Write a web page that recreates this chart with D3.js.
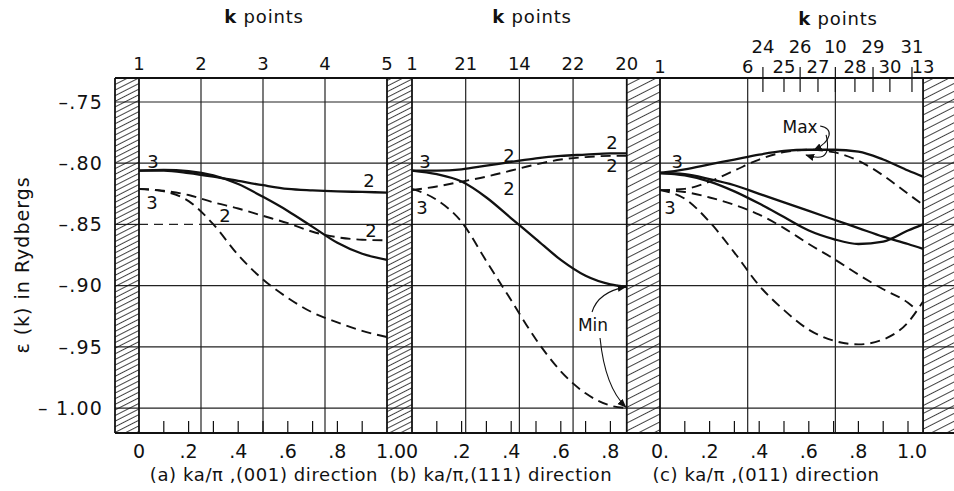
<!DOCTYPE html>
<html>
<head>
<meta charset="utf-8">
<script src="https://cdn.jsdelivr.net/npm/d3@7"></script>
<style>
  body { margin: 0; background: #fff; }
  text { font-family: "DejaVu Sans", sans-serif; fill: #111; }
</style>
</head>
<body>
<svg id="chart" width="954" height="491"></svg>
<script>
// energy axis (Rydbergs)
const yTicks = [-0.75, -0.80, -0.85, -0.90, -0.95, -1.00];
const yTickLabels = ["–.75", "–.80", "–.85", "–.90", "–.95", "– 1.00"];

// (a) ka/pi along (001)
const kA = [0, 0.1, 0.2, 0.3, 0.4, 0.5, 0.6, 0.7, 0.8, 0.9, 1.0];
const aSolidFlat = [-0.806, -0.806, -0.808, -0.811, -0.8145, -0.818, -0.821, -0.8222, -0.823, -0.8235, -0.824];
const aSolidDrop = [-0.806, -0.8055, -0.8065, -0.810, -0.817, -0.8275, -0.839, -0.852, -0.865, -0.874, -0.879];
const aDashUpper = [-0.821, -0.8225, -0.826, -0.832, -0.837, -0.843, -0.849, -0.856, -0.8605, -0.8625, -0.863];
const aDashLower = [-0.821, -0.823, -0.831, -0.850, -0.875, -0.895, -0.910, -0.922, -0.930, -0.937, -0.942];

// (b) ka/pi along (111)
const kB = [0, 0.1, 0.2, 0.3, 0.4, 0.5, 0.6, 0.7, 0.8, 0.866];
const bSolidUpper = [-0.806, -0.806, -0.805, -0.802, -0.799, -0.796, -0.794, -0.793, -0.792, -0.792];
const bDashUpper = [-0.822, -0.819, -0.815, -0.811, -0.806, -0.801, -0.797, -0.795, -0.794, -0.794];
const bSolidLower = [-0.806, -0.809, -0.815, -0.828, -0.845, -0.862, -0.879, -0.892, -0.899, -0.901];
const bDashLower = [-0.821, -0.830, -0.848, -0.880, -0.912, -0.944, -0.970, -0.988, -0.998, -1.000];

// (c) ka/pi along (011)
const kC = [0, 0.1, 0.2, 0.3, 0.4, 0.5, 0.6, 0.7, 0.8, 0.9, 1.0, 1.0607];
const cSolidTop = [-0.808, -0.805, -0.801, -0.797, -0.793, -0.790, -0.789, -0.789, -0.7905, -0.797, -0.806, -0.811];
const cDashTop = [-0.822, -0.821, -0.815, -0.806, -0.797, -0.791, -0.789, -0.791, -0.798, -0.810, -0.825, -0.834];
const cSolidMid = [-0.808, -0.809, -0.813, -0.818, -0.825, -0.832, -0.839, -0.846, -0.853, -0.860, -0.866, -0.870];
const cSolidLow = [-0.808, -0.810, -0.815, -0.823, -0.833, -0.844, -0.855, -0.862, -0.866, -0.864, -0.855, -0.850];
const kCDashMid = [0, 0.1, 0.2, 0.3, 0.4, 0.5, 0.6, 0.7, 0.8, 0.9, 1.0, 1.03];
const cDashMid = [-0.822, -0.8235, -0.828, -0.834, -0.842, -0.853, -0.866, -0.878, -0.891, -0.903, -0.914, -0.919];
const cDashLow = [-0.822, -0.829, -0.848, -0.873, -0.900, -0.920, -0.936, -0.945, -0.948, -0.944, -0.930, -0.913];

// k point labels on top
const kPointsA = ["1", "2", "3", "4", "5"];
const kPointsB = ["1", "21", "14", "22", "20"];
const cRow2Labels = ["1", "6", "25", "27", "28", "30", "13"];
const cRow2K = [0, 0.3536, 0.50, 0.637, 0.786, 0.927, 1.0607];
const cRow1Labels = ["24", "26", "10", "29", "31"];
const cRow1K = [0.415, 0.565, 0.7071, 0.859, 1.016];

// bottom tick labels
const botA = ["0", ".2", ".4", ".6", ".8", "1.0"];
const botB = ["0", ".2", ".4", ".6", ".8"];
const botC = ["0.", ".2", ".4", ".6", ".8", "1.0"];

const svg = d3.select("#chart");
const W = 954;
const yTop = 78, yBot = 433, xLeft = 115;
const unit = 248; // px per ka/pi

const y = d3.scaleLinear().domain([-1.0204, -0.7304]).range([yBot, yTop]);

const mk = (x0, kmax) => d3.scaleLinear().domain([0, kmax]).range([x0, x0 + kmax * unit]);
const xa = mk(139, 1.0);
const xb = mk(412, 0.866);
const xc = mk(660, 1.0607);

const defs = svg.append("defs");
// two hatch densities, like the drawing
[["hatchDense", 5], ["hatchSparse", 7]].forEach(([id, s]) => {
    defs.append("pattern")
        .attr("id", id)
        .attr("patternUnits", "userSpaceOnUse")
        .attr("width", s).attr("height", s)
        .attr("patternTransform", "rotate(-27)")
      .append("line")
        .attr("x1", 0).attr("y1", s / 2).attr("x2", s).attr("y2", s / 2)
        .attr("stroke", "#111").attr("stroke-width", 0.8);
});

defs.append("marker")
    .attr("id", "arrow")
    .attr("viewBox", "0 0 10 10")
    .attr("refX", 9).attr("refY", 5)
    .attr("markerWidth", 9).attr("markerHeight", 9)
    .attr("markerUnits", "userSpaceOnUse")
    .attr("orient", "auto")
  .append("path")
    .attr("d", "M0,1 L10,5 L0,9 Z")
    .attr("fill", "#111");

const grid = svg.append("g").attr("stroke", "#222").attr("stroke-width", 1.2);

// horizontal gridlines
yTicks.forEach(v => {
    if (v === -0.85) {
        grid.append("line").attr("x1", xLeft).attr("x2", xa(0)).attr("y1", y(v)).attr("y2", y(v));
        grid.append("line").attr("x1", xa(0)).attr("x2", xa(0.25)).attr("y1", y(v)).attr("y2", y(v))
            .attr("stroke-dasharray", "9,6");
        grid.append("line").attr("x1", xa(0.25)).attr("x2", W).attr("y1", y(v)).attr("y2", y(v));
    } else {
        grid.append("line").attr("x1", xLeft).attr("x2", W).attr("y1", y(v)).attr("y2", y(v));
    }
});

// vertical gridlines inside panels
const vgrid = [
    [xa, [0.25, 0.5, 0.75]],
    [xb, [0.866 / 4, 0.866 / 2, 0.866 * 3 / 4]],
    [xc, [1.0607 / 3, 1.0607 * 2 / 3]]
];
vgrid.forEach(([sx, ks]) => ks.forEach(k => {
    grid.append("line").attr("x1", sx(k)).attr("x2", sx(k)).attr("y1", yTop).attr("y2", yBot);
}));

// hatched bands
const bands = [
    [xLeft, xa(0), "hatchDense"], [xa(1.0), xb(0), "hatchDense"],
    [xb(0.866), xc(0), "hatchSparse"], [xc(1.0607), W + 2, "hatchSparse"]
];
svg.append("g").selectAll("rect").data(bands).join("rect")
    .attr("x", d => d[0]).attr("y", yTop)
    .attr("width", d => d[1] - d[0]).attr("height", yBot - yTop)
    .attr("fill", d => `url(#${d[2]})`);

// frame
const frame = svg.append("g").attr("stroke", "#111").attr("stroke-width", 1.8);
frame.append("line").attr("x1", xLeft).attr("x2", W).attr("y1", yTop).attr("y2", yTop);
frame.append("line").attr("x1", xLeft).attr("x2", W).attr("y1", yBot).attr("y2", yBot);
[xLeft, xa(0), xa(1.0), xb(0), xb(0.866), xc(0), xc(1.0607)].forEach(x => {
    frame.append("line").attr("x1", x).attr("x2", x).attr("y1", yTop).attr("y2", yBot);
});

// bottom minor ticks every 0.1
const ticks = svg.append("g").attr("stroke", "#111").attr("stroke-width", 1.2);
[[xa, 1.0], [xb, 0.866], [xc, 1.0607]].forEach(([sx, kmax]) => {
    d3.range(1, Math.floor(kmax * 10 + 1e-6) + 1).map(i => i / 10).filter(k => k < kmax - 0.01).forEach(k => {
        ticks.append("line").attr("x1", sx(k)).attr("x2", sx(k)).attr("y1", yBot).attr("y2", yBot - 12);
    });
});

// top ticks for panel c
cRow1K.concat(cRow2K.slice(2, 6)).forEach(k => {
    ticks.append("line").attr("x1", xc(k)).attr("x2", xc(k)).attr("y1", yTop).attr("y2", yTop + 14);
});
cRow1K.forEach(k => {
    ticks.append("line").attr("x1", xc(k)).attr("x2", xc(k)).attr("y1", yTop - 11).attr("y2", yTop);
});

// curves
const series = [
    [xa, kA, aSolidFlat, false], [xa, kA, aSolidDrop, false],
    [xa, kA, aDashUpper, true], [xa, kA, aDashLower, true],
    [xb, kB, bSolidUpper, false], [xb, kB, bDashUpper, true],
    [xb, kB, bSolidLower, false], [xb, kB, bDashLower, true],
    [xc, kC, cSolidTop, false], [xc, kC, cDashTop, true],
    [xc, kC, cSolidMid, false], [xc, kC, cSolidLow, false],
    [xc, kCDashMid, cDashMid, true], [xc, kC, cDashLow, true]
];
const curves = svg.append("g").attr("fill", "none").attr("stroke", "#111");
series.forEach(([sx, ks, vs, dashed]) => {
    const line = d3.line().x(d => sx(d[0])).y(d => y(d[1])).curve(d3.curveMonotoneX);
    curves.append("path")
        .attr("d", line(ks.map((k, i) => [k, vs[i]])))
        .attr("stroke-width", dashed ? 1.9 : 2.3)
        .attr("stroke-dasharray", dashed ? "10,6" : null);
});

// axis labels
const txt = svg.append("g").style("font-size", "18px");
yTicks.forEach((v, i) => {
    txt.append("text").attr("x", 103).attr("y", y(v)).attr("dy", "0.36em")
        .attr("text-anchor", "end").attr("letter-spacing", 1.2).style("font-size", "19px")
        .text(yTickLabels[i]);
});

svg.append("text")
    .attr("transform", `translate(29,${(y(-0.80) + y(-0.95)) / 2 + 10}) rotate(-90)`)
    .attr("text-anchor", "middle").style("font-size", "19px").attr("letter-spacing", 1)
    .text("ε (k) in Rydbergs");

// top k point labels
[[xa, 1.0, kPointsA], [xb, 0.866, kPointsB]].forEach(([sx, kmax, labs]) => {
    labs.forEach((l, i) => {
        txt.append("text").attr("x", sx(kmax * i / 4)).attr("y", 70)
            .attr("text-anchor", "middle").text(l);
    });
});
cRow2Labels.forEach((l, i) => {
    txt.append("text").attr("x", xc(cRow2K[i])).attr("y", 73).attr("text-anchor", "middle").text(l);
});
cRow1Labels.forEach((l, i) => {
    txt.append("text").attr("x", xc(cRow1K[i])).attr("y", 53).attr("text-anchor", "middle").text(l);
});

// "k points" titles
[[264, 23], [532, 23], [838, 25]].forEach(([x, yy]) => {
    const t = txt.append("text").attr("x", x).attr("y", yy).attr("text-anchor", "middle")
        .attr("letter-spacing", 0.8);
    t.append("tspan").attr("font-weight", "bold").text("k");
    t.append("tspan").text(" points");
});

// bottom tick labels
[[xa, botA], [xb, botB], [xc, botC]].forEach(([sx, labs]) => {
    labs.forEach((l, i) => {
        txt.append("text").attr("x", sx(i * 0.2) + (l === "1.0" ? 4 : 0)).attr("y", 458)
            .attr("text-anchor", "middle").style("font-size", "19px").text(l);
    });
});

// panel captions
const caps = [
    [264, "(a) ka/π ,(001) direction"],
    [501, "(b) ka/π,(111) direction"],
    [766, "(c) ka/π ,(011) direction"]
];
caps.forEach(([x, t]) => {
    svg.append("text").attr("x", x).attr("y", 481).attr("text-anchor", "middle")
        .style("font-size", "18px").attr("letter-spacing", 0.6).text(t);
});

// curve labels (degeneracies)
const curveLabels = [
    [xa, 0.056, -0.799, "3"], [xa, 0.052, -0.8325, "3"], [xa, 0.347, -0.843, "2"],
    [xa, 0.927, -0.8145, "2"], [xa, 0.935, -0.8554, "2"],
    [xb, 0.052, -0.799, "3"], [xb, 0.040, -0.836, "3"], [xb, 0.391, -0.794, "2"],
    [xb, 0.391, -0.8203, "2"], [xb, 0.806, -0.7827, "2"], [xb, 0.806, -0.8015, "2"],
    [xc, 0.069, -0.799, "3"], [xc, 0.040, -0.8366, "3"]
];
curveLabels.forEach(([sx, k, v, t]) => {
    txt.append("text").attr("x", sx(k)).attr("y", y(v)).attr("dy", "0.36em")
        .attr("text-anchor", "middle").style("font-size", "18px").text(t);
});

// Min / Max annotations
txt.append("text").attr("x", xb(0.73)).attr("y", y(-0.9322)).attr("dy", "0.36em")
    .attr("text-anchor", "middle").style("font-size", "17px").text("Min");
txt.append("text").attr("x", xc(0.565)).attr("y", y(-0.7704)).attr("dy", "0.36em")
    .attr("text-anchor", "middle").style("font-size", "17px").text("Max");

const ann = svg.append("g").attr("fill", "none").attr("stroke", "#111").attr("stroke-width", 1.1);
const arrow = (x1, y1, cx, cy, x2, y2) => {
    ann.append("path").attr("d", `M${x1},${y1} Q${cx},${cy} ${x2},${y2}`).attr("marker-end", "url(#arrow)");
};
{
    const mx = xb(0.73), my = y(-0.9322);
    arrow(mx - 1, my - 13, mx + 5, my - 33, xb(0.866) - 1, y(-0.901));
    arrow(mx + 7, my + 13, mx + 12, my + 62, xb(0.866) - 1, y(-1.000) - 1);
    const ax = xc(0.565), ay = y(-0.7704);
    ann.append("path")
        .attr("d", `M${ax + 20},${ay - 1} C${ax + 34},${ay + 1} ${ax + 32},${ay + 14} ${xc(0.62)},${y(-0.7895)}`)
        .attr("marker-end", "url(#arrow)");
    ann.append("path")
        .attr("d", `M${ax + 26},${ay + 8} C${ax + 32},${ay + 34} ${ax + 18},${ay + 32} ${xc(0.589)},${y(-0.7933)}`)
        .attr("marker-end", "url(#arrow)");
}
</script>
</body>
</html>
